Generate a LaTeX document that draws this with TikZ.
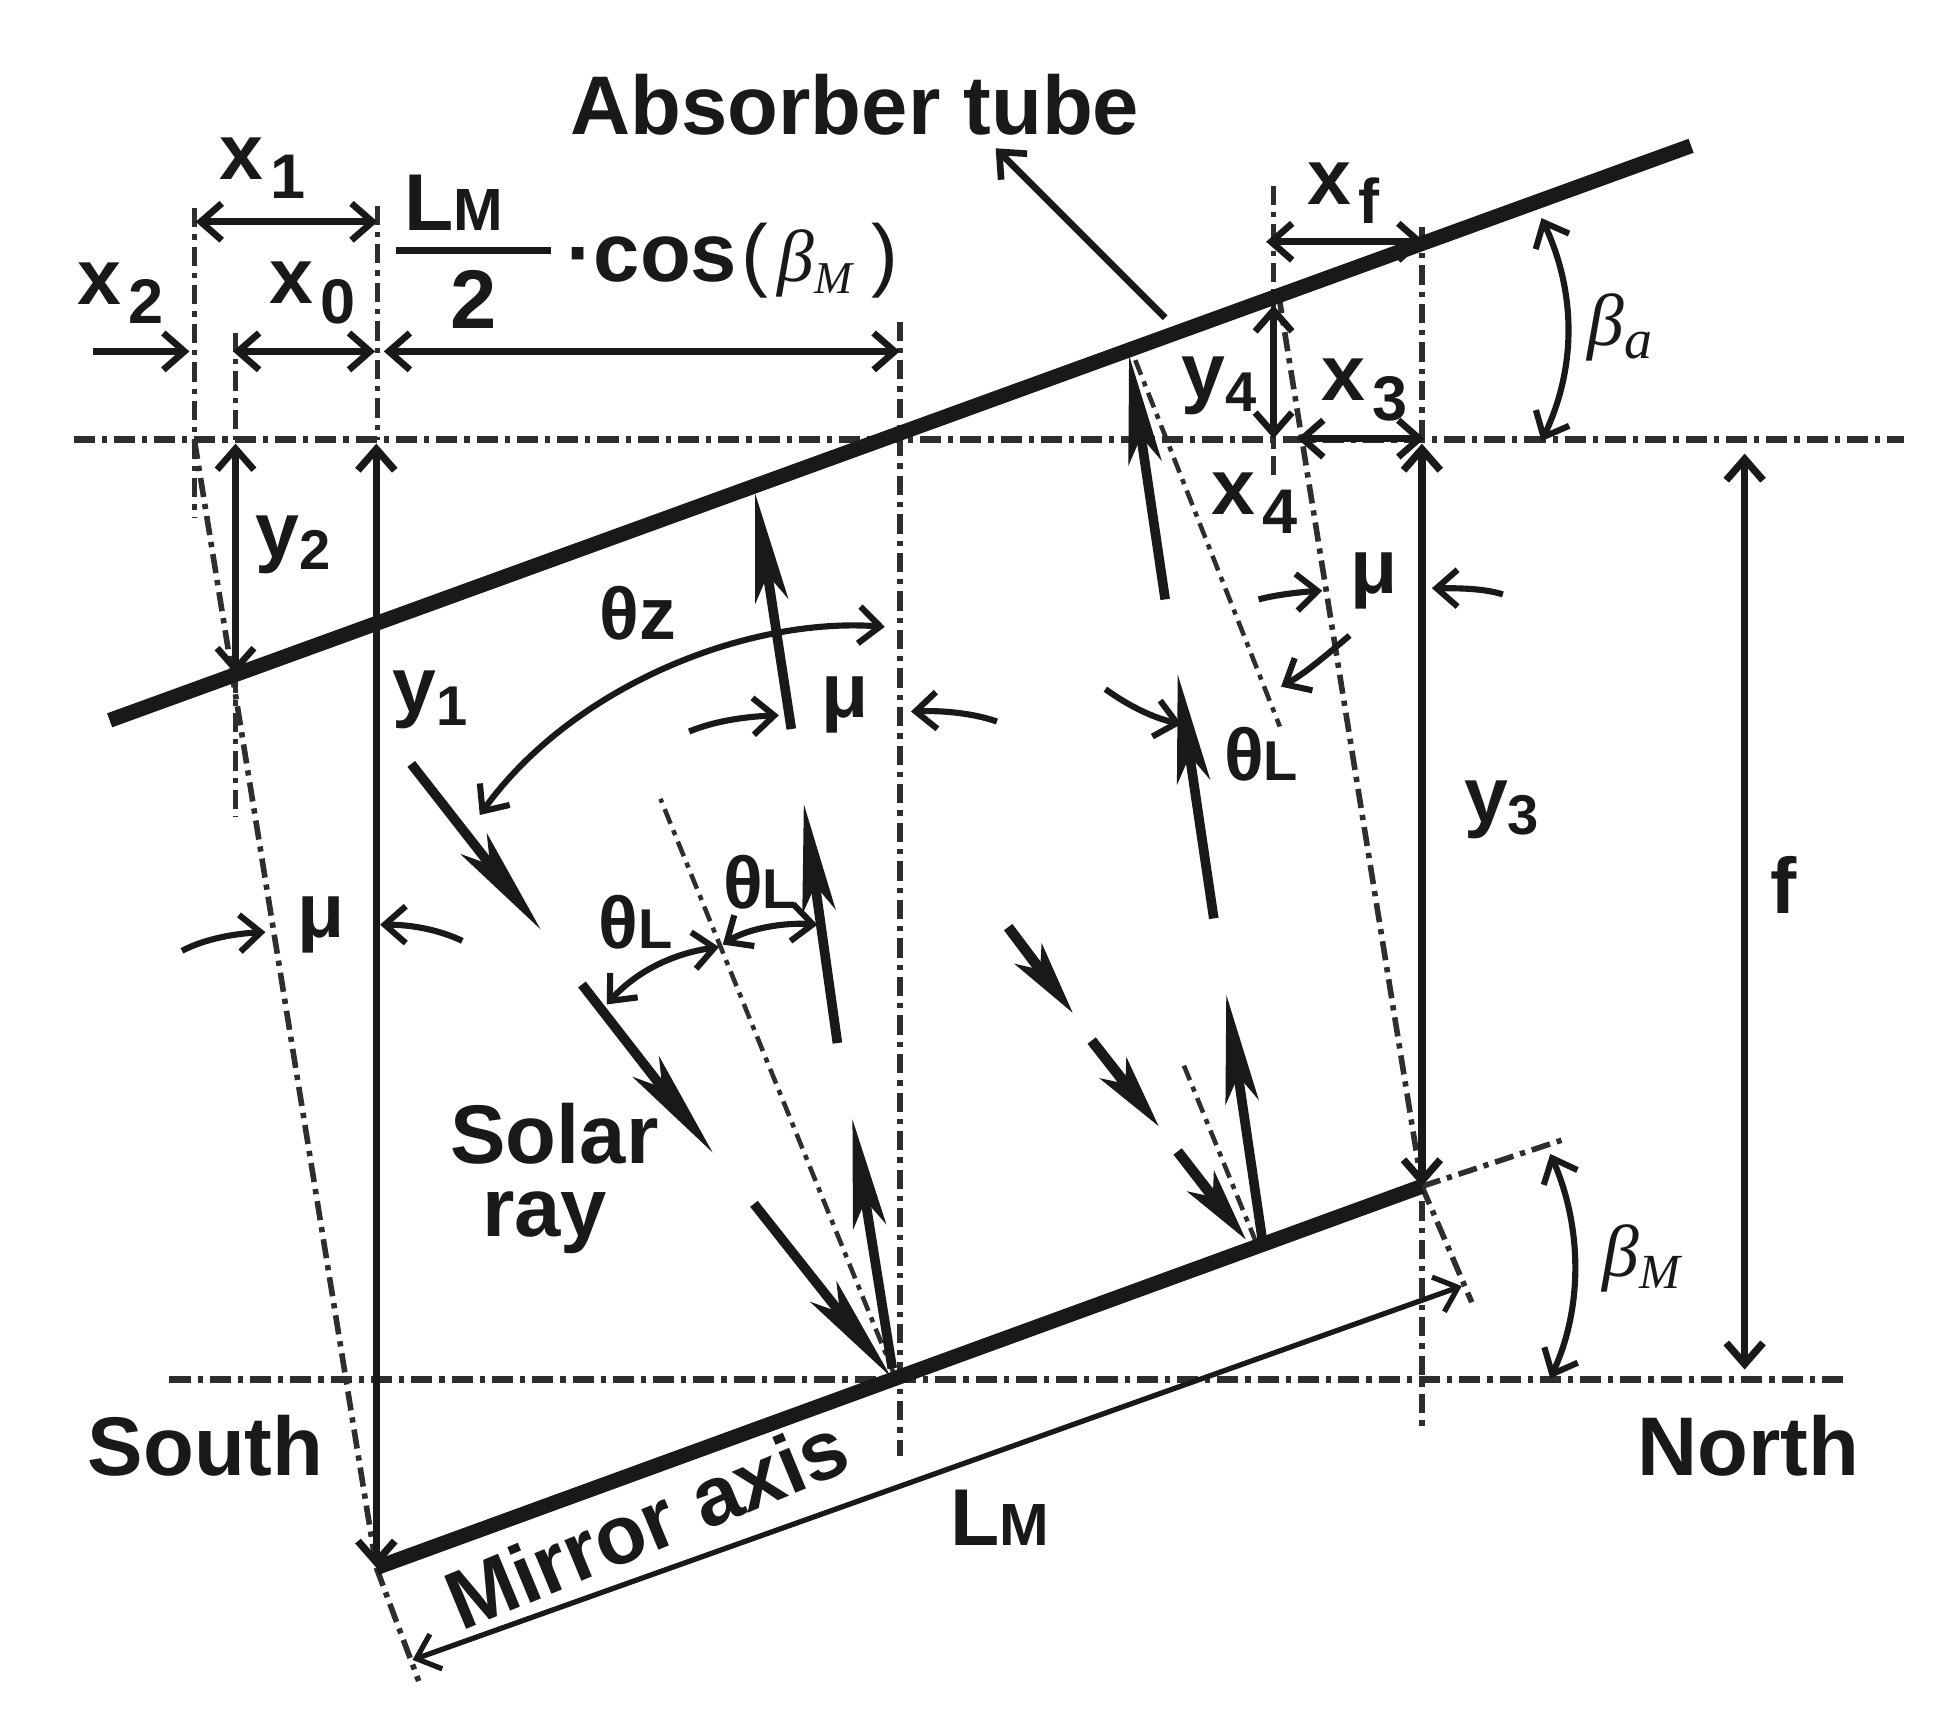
\documentclass[tikz,border=0pt]{standalone}
\usepackage{fontspec}
\setmainfont{Liberation Sans}
\newfontfamily\betafont{Liberation Serif}
\usetikzlibrary{arrows.meta}
\definecolor{ink}{gray}{0.10}
\definecolor{dashink}{gray}{0.18}
% labels: big letter, lowered index
\newcommand{\biglab}[1]{{\fontsize{45}{45}\selectfont\bfseries #1}}
\newcommand{\xlab}[2]{\biglab{#1}\kern4pt\raisebox{-11pt}{\fontsize{36}{36}\selectfont\bfseries #2}}
\newcommand{\ylab}[2]{\biglab{#1}\raisebox{-7pt}{\fontsize{32}{32}\selectfont\bfseries #2}}
\newcommand{\thetalab}[1]{{\fontsize{42}{42}\selectfont\bfseries θ\fontsize{32}{32}\selectfont #1}}
\newcommand{\mulab}{{\fontsize{44}{44}\selectfont\bfseries μ}}
\newcommand{\lmlab}{{\fontsize{46}{46}\selectfont\bfseries L\fontsize{34}{34}\selectfont M}}
\newcommand{\betalab}[2]{{\betafont\itshape\fontsize{42}{42}\selectfont β\raisebox{-7pt}{\fontsize{#2}{#2}\selectfont #1}}}
\newcommand{\wordlab}[1]{{\fontsize{47.5}{50}\selectfont\bfseries #1}}

\begin{document}
\begin{tikzpicture}[x=0.025cm, y=-0.025cm, color=ink,
    every node/.style={inner sep=0pt, text=ink},
    >={Straight Barb[length=12pt,width=21pt]},
    axisline/.style={draw=dashink, line width=4pt, dash pattern=on 12pt off 4pt on 3pt off 4pt},
    guide/.style={draw=dashink, line width=3.2pt, dash pattern=on 11pt off 4pt on 3pt off 4pt},
    thinguide/.style={draw=dashink, line width=2.6pt, dash pattern=on 9pt off 4pt on 3pt off 4pt},
    bar/.style={line width=8.5pt},
    dimline/.style={line width=3.8pt},
    anglearc/.style={line width=3.5pt},
    rayline/.style={line width=5.5pt, -{Stealth[length=62pt,width=19pt,inset=15pt]}},
    shortray/.style={line width=6pt, -{Stealth[length=42pt,width=19pt,inset=11pt]}}]
    \useasboundingbox (0,0) rectangle (1568,1392);

    \coordinate (absS) at (88,578);
    \coordinate (absN) at (1357,117);
    \coordinate (mirS) at (302,1258);
    \coordinate (mirN) at (1141,952);
    \coordinate (mirC) at (718,1104);
    \coordinate (mirR) at (1008,997);
    \coordinate (axisSW) at (136,1107);
    \coordinate (axisNE) at (1482,1107);
    \coordinate (axisW) at (59,353);
    \coordinate (axisE) at (1528,353);

    % axes and guide lines
    \draw[axisline] (axisW) -- (axisE);
    \draw[axisline] (axisSW) -- (axisNE);
    \draw[guide] (722,258) -- (722,1168);
    \draw[guide] (303,165) -- (303,353);
    \draw[guide] (156,167) -- (156,416);
    \draw[guide] (189,267) -- (189,353);
    \draw[guide] (189,541) -- (189,656);
    \draw[guide] (1022,149) -- (1022,383);
    \draw[guide] (1141,182) -- (1141,353);
    \draw[guide] (1141,964) -- (1141,1145);
    \draw[guide] (156,353) -- (mirS);
    \draw[guide] (1026,236) -- (mirN);
    \draw[guide] (mirS) -- (336,1349);
    \draw[guide] (mirN) -- (1181,1045);
    \draw[guide] (mirN) -- (1253,915);
    \draw[thinguide] (mirC) -- (530,641);
    \draw[thinguide] (911,289) -- (1027,583);
    \draw[thinguide] (mirR) -- (950,855);

    % absorber and mirror
    \draw[bar] (absS) -- (absN);
    \draw[bar] (mirS) -- (mirN);

    % solar rays
    \draw[rayline] (330,613) -- (434,746);
    \draw[rayline] (467,790) -- (572,925);
    \draw[rayline] (605,966) -- (715,1105);
    \draw[shortray] (809,744) -- (861,813);
    \draw[shortray] (876,835) -- (930,904);
    \draw[shortray] (945,924) -- (1000,995);
    \draw[rayline] (716,1098) -- (684,898);
    \draw[rayline] (672,837) -- (645,645);
    \draw[rayline] (635,585) -- (606,396);
    \draw[rayline] (1013,995) -- (984,798);
    \draw[rayline] (974,737) -- (945,541);
    \draw[rayline] (935,481) -- (906,285);

    % dimensions
    \draw[dimline, <->] (157,178) -- (303,178);
    \draw[dimline, ->] (75,282) -- (152,282);
    \draw[dimline, <->] (187,282) -- (301,282);
    \draw[dimline, <->] (308,282) -- (722,282);
    \draw[dimline, <->] (1016,194) -- (1143,194);
    \draw[dimline, <->] (1041,352) -- (1143,352);
    \draw[dimline, <->] (1022,245) -- (1022,352);
    \draw[dimline, <->] (189,356) -- (189,541);
    \draw[line width=4.2pt, <->] (302,356) -- (mirS);
    \draw[line width=4.2pt, <->] (1141,356) -- (mirN);
    \draw[line width=4.2pt, <->] (1400,364) -- (1400,1099);
    \draw[line width=3pt, <->] (331,1332) -- (1173,1032);
    \draw[dimline, ->] (935,255) -- (799,119);

    % angles
    \draw[anglearc, <->] (710,503) .. controls (600,495) and (460,550) .. (385,654);
    \draw[anglearc, <->] (1237,175) .. controls (1265,235) and (1265,295) .. (1237,354);
    \draw[anglearc, <->] (1244,926) .. controls (1270,985) and (1270,1050) .. (1244,1106);
    \draw[anglearc, ->] (146,763) .. controls (165,753) and (190,749) .. (213,748);
    \draw[anglearc, ->] (371,755) .. controls (352,746) and (330,742) .. (305,742);
    \draw[anglearc, ->] (553,587) .. controls (575,578) and (600,575) .. (625,574);
    \draw[anglearc, ->] (800,579) .. controls (780,572) and (755,570) .. (731,571);
    \draw[anglearc, ->] (1010,481) .. controls (1025,477) and (1045,475) .. (1061,474);
    \draw[anglearc, ->] (1206,477) .. controls (1190,472) and (1170,472) .. (1149,472);
    \draw[anglearc, ->] (887,553) .. controls (905,566) and (925,576) .. (948,581);
    \draw[anglearc, ->] (1083,510) .. controls (1065,525) and (1048,540) .. (1028,551);
    \draw[anglearc, <->] (577,760) .. controls (540,765) and (510,780) .. (487,806);
    \draw[anglearc, <->] (580,758) .. controls (600,745) and (630,740) .. (656,742);

    % fraction
    \draw[line width=4.5pt] (318,201) -- (442,201) coordinate (fracbar);

    % labels
    \node at (686,84) (absorber) {\wordlab{Absorber tube}};
    \node at (211,135) (xone) {\xlab{x}{1}};
    \node at (97,235) (xtwo) {\xlab{x}{2}};
    \node at (251,235) (xzero) {\xlab{x}{0}};
    \node at (1078,155) (xf) {\xlab{x}{f}};
    \node at (1095,313) (xthree) {\xlab{x}{3}};
    \node at (1007,404) (xfour) {\xlab{x}{4}};
    \node at (235,437) (ytwo) {\ylab{y}{2}};
    \node at (345,562) (yone) {\ylab{y}{1}};
    \node at (1205,650) (ythree) {\ylab{y}{3}};
    \node at (978,310) (yfour) {\ylab{y}{4}};
    \node at (364,163) (lmtop) {\lmlab};
    \node at (380,240) (two) {\wordlab{2}};
    \node[anchor=base west] at (454,226) (cosfn) {\wordlab{·cos}};
    \node[anchor=base] at (606,226) (lparen) {{\fontsize{46}{46}\selectfont (}};
    \node at (654,211) (betatop) {\betalab{M}{26}};
    \node[anchor=base] at (710,226) (rparen) {{\fontsize{46}{46}\selectfont )}};
    \node at (1300,263) (betaa) {\betalab{a}{32}};
    \node at (1317,1010) (betam) {\betalab{M}{28}};
    \node at (512,492) (thetaz) {{\fontsize{42}{42}\selectfont\bfseries θz}};
    \node at (510,740) (thetaone) {\thetalab{L}};
    \node at (610,708) (thetatwo) {\thetalab{L}};
    \node at (1012,605) (thetathree) {\thetalab{L}};
    \node at (258,742) (muone) {\mulab};
    \node at (678,566) (mutwo) {\mulab};
    \node at (1103,466) (muthree) {\mulab};
    \node at (1431,710) (flab) {\biglab{f}};
    \node at (445,910) (solar) {\wordlab{Solar}};
    \node at (437,981) (ray) {\wordlab{ray}};
    \node at (165,1160) (south) {\wordlab{South}};
    \node at (1403,1160) (north) {\wordlab{North}};
    \node at (802,1218) (lmlow) {\lmlab};
    \node[rotate=22.5] at (519,1222) (mirroraxis) {\wordlab{Mirror axis}};
\end{tikzpicture}
\end{document}
